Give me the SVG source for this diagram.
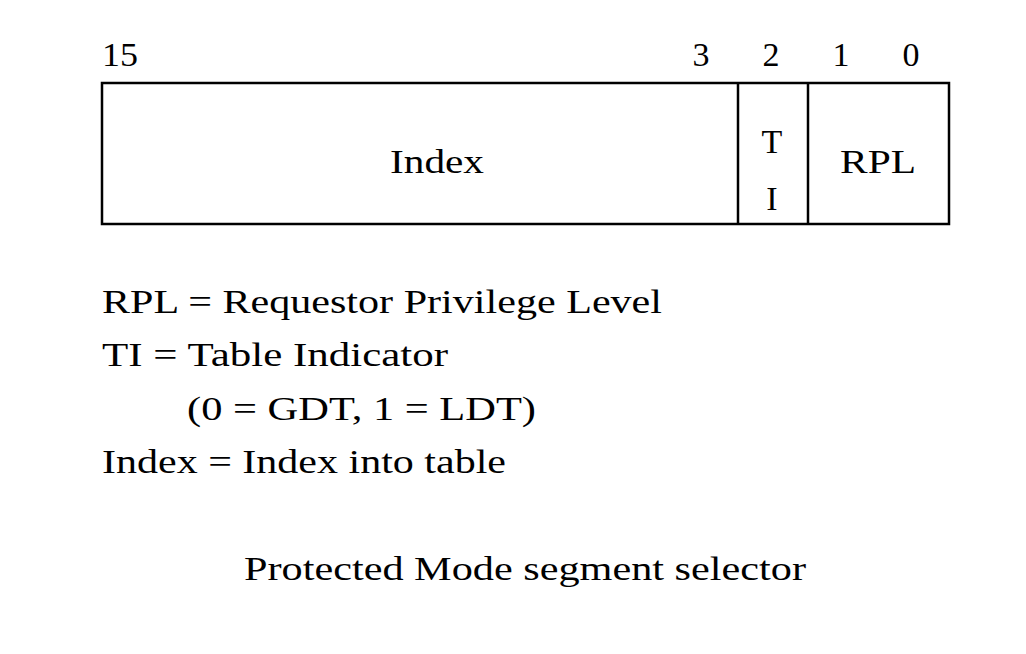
<svg xmlns="http://www.w3.org/2000/svg" width="1026" height="654" viewBox="0 0 1026 654">
<style>
text{font-family:"Liberation Serif","Times New Roman",serif;fill:#000;font-size:34px}
.box{fill:#fff;stroke:#000;stroke-width:2.5}
.mid{text-anchor:middle}
</style>
<rect width="1026" height="654" fill="#fff"/>
<g id="bits">
<text x="102" y="66" textLength="36" lengthAdjust="spacingAndGlyphs">15</text>
<text x="701" y="66" class="mid">3</text>
<text x="771" y="66" class="mid">2</text>
<text x="841" y="66" class="mid">1</text>
<text x="911" y="66" class="mid">0</text>
</g>
<g id="register">
<rect class="box" x="102" y="83" width="847" height="141"/>
<line x1="738" y1="83" x2="738" y2="224" stroke="#000" stroke-width="2.5"/>
<line x1="808" y1="83" x2="808" y2="224" stroke="#000" stroke-width="2.5"/>
</g>
<g id="field-index"><text x="437" y="173" class="mid" textLength="94" lengthAdjust="spacingAndGlyphs">Index</text></g>
<g id="field-ti"><text x="772" y="153" class="mid">T</text><text x="772" y="210" class="mid">I</text></g>
<g id="field-rpl"><text x="878" y="173" class="mid" textLength="76" lengthAdjust="spacingAndGlyphs">RPL</text></g>
<g id="legend">
<text x="102" y="313" textLength="560" lengthAdjust="spacingAndGlyphs">RPL = Requestor Privilege Level</text>
<text x="102" y="366" textLength="346" lengthAdjust="spacingAndGlyphs">TI = Table Indicator</text>
<text x="187" y="420" textLength="349" lengthAdjust="spacingAndGlyphs">(0 = GDT, 1 = LDT)</text>
<text x="102" y="473" textLength="404" lengthAdjust="spacingAndGlyphs">Index = Index into table</text>
</g>
<g id="caption"><text x="244" y="580" textLength="562" lengthAdjust="spacingAndGlyphs">Protected Mode segment selector</text></g>
</svg>
